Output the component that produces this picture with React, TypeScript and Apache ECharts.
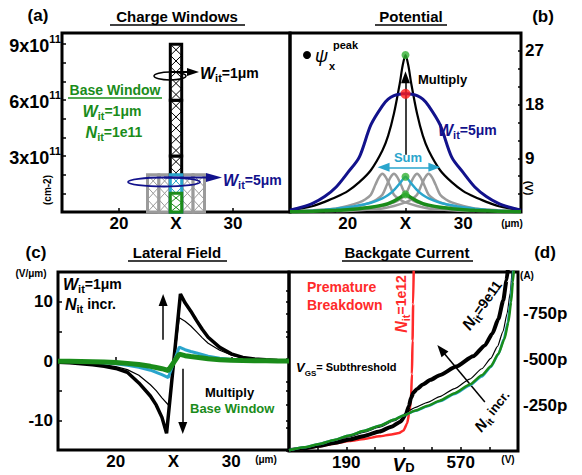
import React, { useEffect, useRef } from 'react';
import * as echarts from 'echarts';

const F = '"Liberation Sans", Arial, Helvetica, sans-serif';
const GREEN = '#1a8c1a';
const CYAN = '#2aa5cc';
const NAVY = '#12128c';
const GRAY = '#9b9b9b';
const RED = '#ff2a2a';

// ---------- (a) Charge Windows : [center x (um), bottom, top] in 1e11 cm-2 ----------
const chargeLabelTicks = [3, 6, 9];
const grayWindows = [[23, 0, 2], [24, 0, 2], [25, 0, 2], [26, 0, 2], [27, 0, 2]];
const blackWindows = [[25, 0, 3], [25, 3, 6], [25, 6, 9]];
const cyanWindows = [[25, 0, 2]];
const greenWindows = [[25, 0, 1]];

// ---------- (b) Potential (V) ----------
const potX = [15, 16, 17, 18, 19, 20, 21, 22, 23, 23.5, 24, 24.5, 24.75, 25, 25.25, 25.5, 26, 26.5, 27, 28, 29, 30, 31, 32, 33, 34, 35];
const potBlack = [0.4, 0.6, 1.0, 1.7, 2.5, 3.5, 5.0, 7.0, 10.3, 12.8, 16.5, 21.5, 24.5, 26.3, 24.5, 21.5, 16.5, 12.8, 10.3, 7.0, 5.0, 3.5, 2.5, 1.7, 1.0, 0.6, 0.4];
const potNavy = [0.3, 0.8, 1.5, 2.6, 4.2, 6.6, 9.2, 14.6, 17.8, 18.9, 19.5, 19.75, 19.8, 19.8, 19.8, 19.75, 19.5, 18.9, 17.8, 14.6, 9.2, 6.6, 4.2, 2.6, 1.5, 0.8, 0.3];
const potCyan = [0.1, 0.14, 0.22, 0.38, 0.56, 0.78, 1.12, 1.56, 2.3, 2.85, 3.66, 4.78, 5.4, 5.9, 5.4, 4.78, 3.66, 2.85, 2.3, 1.56, 1.12, 0.78, 0.56, 0.38, 0.22, 0.14, 0.1];
const potGreen = [0.05, 0.07, 0.11, 0.19, 0.28, 0.39, 0.56, 0.78, 1.15, 1.42, 1.83, 2.39, 2.72, 2.95, 2.72, 2.39, 1.83, 1.42, 1.15, 0.78, 0.56, 0.39, 0.28, 0.19, 0.11, 0.07, 0.05];
const grayCenters = [23, 24, 26, 27];
const grayDx = [-8, -6, -4, -3, -2, -1.5, -1, -0.6, -0.3, 0, 0.3, 0.6, 1, 1.5, 2, 3, 4, 6, 8];
const grayV = [0.15, 0.3, 0.6, 1.0, 1.6, 2.1, 2.9, 4.6, 5.8, 6.4, 5.8, 4.6, 2.9, 2.1, 1.6, 1.0, 0.6, 0.3, 0.15];
const peakGreen = [[25, 26.3], [25, 5.9], [25, 2.95]];
const peakRed = [[25, 19.8]];
const potLabelTicks = [9, 18, 27];

// ---------- (c) Lateral Field (V/um) ----------
const fieldBlack = [[15, -0.2], [16, -0.3], [17, -0.45], [18, -0.65], [19, -0.9], [20, -1.25], [21, -1.9], [22, -3.7], [23, -5.9], [23.5, -7.4], [24, -9.5], [24.4, -12.2], [25.6, 11.3], [26, 9.8], [26.5, 8.4], [27, 6.8], [27.5, 5.3], [28, 4.0], [29, 2.3], [30, 1.2], [31, 0.6], [32, 0.35], [33, 0.2], [34, 0.1], [35, 0.05]];
const fieldThin = [[15, -0.15], [16, -0.2], [17, -0.3], [18, -0.45], [19, -0.65], [20, -0.95], [21, -1.45], [22, -2.4], [23, -4.0], [23.5, -5.0], [24, -6.2], [24.6, -7.5], [25.5, 7.3], [26, 6.7], [26.5, 5.9], [27, 4.9], [27.5, 3.9], [28, 3.0], [29, 1.8], [30, 1.0], [31, 0.5], [32, 0.3], [33, 0.15], [34, 0.1], [35, 0.05]];
const fieldCyan = [[15, -0.05], [16, -0.08], [17, -0.12], [18, -0.2], [19, -0.3], [20, -0.45], [21, -0.7], [22, -1.05], [23, -1.55], [23.5, -1.9], [24, -2.3], [24.55, -2.8], [25.5, 2.35], [26, 1.9], [26.5, 1.6], [27, 1.35], [28, 0.8], [29, 0.45], [30, 0.25], [31, 0.14], [32, 0.08], [33, 0.05], [34, 0.03], [35, 0.02]];
const fieldGreen = [[15, -0.03], [16, -0.05], [17, -0.08], [18, -0.12], [19, -0.18], [20, -0.27], [21, -0.4], [22, -0.6], [23, -0.9], [23.5, -1.1], [24, -1.3], [24.55, -1.6], [25.5, 1.15], [26, 0.9], [26.5, 0.75], [27, 0.62], [28, 0.38], [29, 0.22], [30, 0.12], [31, 0.07], [32, 0.04], [33, 0.03], [34, 0.02], [35, 0.01]];
const fieldLabelTicks = [-10, 0, 10];

// ---------- (d) Backgate Current : [V, |I| in pA] ----------
const curGreen = [[0, 4], [50, 20], [100, 38], [150, 60], [200, 85], [250, 110], [300, 138], [350, 172], [380, 194], [420, 220], [460, 246], [500, 274], [550, 315], [600, 362], [640, 412], [670, 462], [695, 530], [715, 610], [728, 700], [737, 810], [743, 920], [747, 1000]];
const curCyan = [[0, 4], [50, 20], [100, 38], [150, 60], [200, 85], [250, 110], [300, 138], [350, 172], [380, 194], [420, 219], [460, 244], [500, 271], [550, 311], [600, 357], [640, 406], [670, 458], [695, 528], [713, 610], [726, 700], [735, 810], [741, 920], [745, 1000]];
const curThin = [[0, 4], [50, 18], [100, 34], [150, 55], [200, 78], [250, 103], [300, 130], [350, 165], [380, 195], [400, 222], [420, 238], [460, 265], [500, 296], [550, 340], [600, 392], [640, 448], [670, 505], [692, 570], [710, 650], [724, 750], [734, 860], [741, 1000]];
const curThick = [[0, 4], [50, 14], [100, 28], [150, 44], [200, 62], [250, 82], [300, 106], [340, 132], [370, 160], [388, 200], [398, 245], [405, 290], [413, 318], [425, 338], [444, 362], [470, 388], [500, 413], [555, 460], [611, 516], [650, 575], [675, 640], [695, 720], [711, 820], [722, 930], [727, 1000]];
const curRed = [[0, 3], [50, 12], [100, 26], [150, 40], [200, 55], [250, 66], [300, 80], [340, 90], [365, 98], [380, 112], [392, 150], [400, 215], [405, 290], [408, 420], [410, 600], [412, 800], [414, 1000]];
const curLabelTicks = [250, 500, 750];
const voltLabels: Record<number, string> = { 190: '190', 380: '{v|V}{d|D}', 570: '570' };

const tickStyle = { show: true, inside: true, length: 4, lineStyle: { color: '#000', width: 1.5 } };
const lblBase = { color: '#000', fontFamily: F, fontWeight: 'bold' as const, fontSize: 17 };

function wRich(color: string, base = 14) {
  return {
    w: { fontFamily: F, fontWeight: 'bold', fontStyle: 'italic', fontSize: base + 2, lineHeight: 20, verticalAlign: 'middle', fill: color, color },
    s: { fontFamily: F, fontWeight: 'bold', fontSize: base - 3, lineHeight: 11, verticalAlign: 'bottom', fill: color, color },
    n: { fontFamily: F, fontWeight: 'bold', fontSize: base, lineHeight: 20, verticalAlign: 'middle', fill: color, color },
  };
}

function txt(x: number, y: number, text: string, o: any = {}) {
  return {
    type: 'text', x, y, rotation: o.rot || 0, z: 100, silent: true,
    style: {
      text, fill: o.color || '#000', fontFamily: F, fontWeight: o.weight || 'bold',
      fontSize: o.size || 14, fontStyle: o.italic ? 'italic' : 'normal',
      align: o.align || 'left', verticalAlign: 'middle', rich: o.rich,
    },
  };
}
function ln(x1: number, y1: number, x2: number, y2: number, color = '#000', w = 1.5) {
  return { type: 'line', z: 100, silent: true, shape: { x1, y1, x2, y2 }, style: { stroke: color, lineWidth: w } };
}
function tri(points: number[][], color: string) {
  return { type: 'polygon', z: 100, silent: true, shape: { points }, style: { fill: color } };
}

function windowRender(color: string, lw: number) {
  return (params: any, api: any) => {
    const xc = api.value(0), y0 = api.value(1), y1 = api.value(2);
    const p0 = api.coord([xc - 0.5, y0]);
    const p1 = api.coord([xc + 0.5, y1]);
    const x = p0[0], w = p1[0] - p0[0], top = p1[1], h = p0[1] - p1[1];
    const n = Math.max(1, Math.round(h / w));
    const ch = h / n;
    const children: any[] = [{ type: 'rect', shape: { x, y: top, width: w, height: h }, style: { fill: '#fff' } }];
    for (let i = 0; i < n; i++) {
      const yy = top + i * ch;
      children.push({ type: 'line', shape: { x1: x, y1: yy, x2: x + w, y2: yy + ch }, style: { stroke: color, lineWidth: 1 } });
      children.push({ type: 'line', shape: { x1: x + w, y1: yy, x2: x, y2: yy + ch }, style: { stroke: color, lineWidth: 1 } });
    }
    children.push({ type: 'rect', shape: { x, y: top, width: w, height: h }, style: { fill: 'none', stroke: color, lineWidth: lw } });
    return { type: 'group', children };
  };
}

function customWin(data: number[][], color: string, z: number) {
  return {
    type: 'custom', xAxisIndex: 0, yAxisIndex: 0, z, clip: false, silent: true,
    renderItem: windowRender(color, 3), encode: { x: 0, y: [1, 2] }, data,
  };
}

function lineS(data: number[][], x: number, y: number, color: string, width: number, z: number, extra: any = {}) {
  return {
    type: 'line', xAxisIndex: x, yAxisIndex: y, data, showSymbol: false, symbol: 'none', z, silent: true,
    lineStyle: { color, width }, itemStyle: { color }, ...extra,
  };
}

function arrowML(segs: number[][][], color: string, both = false) {
  return {
    silent: true, symbol: both ? ['triangle', 'triangle'] : ['none', 'triangle'], symbolSize: [9, 12],
    label: { show: false }, lineStyle: { color, width: 1.5, type: 'solid' },
    data: segs.map((s) => [{ coord: s[0] }, { coord: s[1] }]),
  };
}

function buildOption(): any {
  const xBase = (grid: number) => ({
    type: 'value', gridIndex: grid, min: 15, max: 35, interval: 5,
    axisLine: { show: false }, axisTick: tickStyle, splitLine: { show: false },
    axisLabel: { ...lblBase, margin: 3, formatter: (v: number) => (v === 20 ? '20' : v === 25 ? 'X' : v === 30 ? '30' : '') },
  });
  const grays = grayCenters.map((c) => lineS(grayDx.map((d, i) => [c + d, grayV[i]]), 1, 1, GRAY, 2.5, 3, { smooth: 0.3 }));
  const bAll = (v: number[]) => potX.map((x, i) => [x, v[i]]);

  return {
    animation: false,
    backgroundColor: '#fff',
    grid: [
      { left: 62, top: 33, width: 228, height: 179, show: true, borderColor: '#000', borderWidth: 3, backgroundColor: 'transparent' },
      { left: 290, top: 33, width: 231, height: 179, show: true, borderColor: '#000', borderWidth: 3, backgroundColor: 'transparent' },
      { left: 58, top: 272, width: 231, height: 178, show: true, borderColor: '#000', borderWidth: 3, backgroundColor: 'transparent' },
      { left: 289, top: 272, width: 229, height: 179, show: true, borderColor: '#000', borderWidth: 3, backgroundColor: 'transparent' },
    ],
    xAxis: [
      xBase(0), xBase(1), xBase(2),
      {
        type: 'value', gridIndex: 3, min: 0, max: 760, interval: 95,
        axisLine: { show: false }, axisTick: tickStyle, splitLine: { show: false },
        axisLabel: {
          ...lblBase, margin: 3, formatter: (v: number) => voltLabels[v] || '',
          rich: {
            v: { fontFamily: F, fontWeight: 'bold', fontStyle: 'italic', fontSize: 19, lineHeight: 20, verticalAlign: 'middle', color: '#000' },
            d: { fontFamily: F, fontWeight: 'bold', fontSize: 13, lineHeight: 10, verticalAlign: 'bottom', color: '#000' },
          },
        },
      },
    ],
    yAxis: [
      {
        type: 'value', gridIndex: 0, position: 'left', min: 0, max: 9.6, interval: 1,
        axisLine: { show: false }, axisTick: tickStyle, splitLine: { show: false },
        axisLabel: {
          ...lblBase, margin: 1,
          formatter: (v: number) => (chargeLabelTicks.includes(v) ? `{m|${v}x10}{p|11}` : ''),
          rich: {
            m: { fontFamily: F, fontWeight: 'bold', fontSize: 18, lineHeight: 22, verticalAlign: 'bottom', color: '#000' },
            p: { fontFamily: F, fontWeight: 'bold', fontSize: 11, lineHeight: 11, verticalAlign: 'top', color: '#000' },
          },
        },
      },
      {
        type: 'value', gridIndex: 1, position: 'right', min: 0, max: 30, interval: 3,
        axisLine: { show: false }, axisTick: { ...tickStyle, length: 3 }, splitLine: { show: false },
        axisLabel: { ...lblBase, margin: 4, formatter: (v: number) => (potLabelTicks.includes(v) ? String(v) : '') },
      },
      {
        type: 'value', gridIndex: 2, position: 'left', min: -15, max: 15, interval: 5,
        axisLine: { show: false }, axisTick: tickStyle, splitLine: { show: false },
        axisLabel: { ...lblBase, margin: 5, formatter: (v: number) => (fieldLabelTicks.includes(v) ? String(v) : '') },
      },
      {
        type: 'value', gridIndex: 2, position: 'right', min: -15, max: 15, interval: 5,
        axisLine: { show: false }, axisTick: { ...tickStyle, length: 3 }, splitLine: { show: false },
        axisLabel: { show: false },
      },
      {
        type: 'value', gridIndex: 3, position: 'right', min: 0, max: 975, interval: 125,
        axisLine: { show: false }, axisTick: { ...tickStyle, length: 3 }, splitLine: { show: false },
        axisLabel: { ...lblBase, margin: 5, formatter: (v: number) => (curLabelTicks.includes(v) ? `-${v}p` : '') },
      },
    ],
    series: [
      customWin(grayWindows, GRAY, 2),
      customWin(blackWindows, '#000', 3),
      customWin(cyanWindows, CYAN, 4),
      customWin(greenWindows, GREEN, 5),

      ...grays,
      lineS(bAll(potBlack), 1, 1, '#000', 2.2, 4, {
        smooth: 0.3,
        markLine: arrowML([[[25, 9.6], [25, 22.6]]], '#000'),
      }),
      lineS(bAll(potNavy), 1, 1, NAVY, 3, 5, { smooth: 0.3 }),
      lineS(bAll(potCyan), 1, 1, CYAN, 2.5, 6, {
        smooth: 0.3,
        markLine: arrowML([[[23.1, 7.5], [27.5, 7.5]]], CYAN, true),
      }),
      lineS(bAll(potGreen), 1, 1, GREEN, 3.5, 7, { smooth: 0.3 }),
      { type: 'scatter', xAxisIndex: 1, yAxisIndex: 1, data: peakGreen, symbolSize: 8, itemStyle: { color: '#33b033' }, z: 10, silent: true },
      { type: 'scatter', xAxisIndex: 1, yAxisIndex: 1, data: peakRed, symbolSize: 10, itemStyle: { color: '#ff1a1a' }, z: 10, silent: true },

      lineS(fieldBlack, 2, 2, '#000', 3.5, 4, {
        markLine: arrowML([[[24.1, 3.6], [24.1, 10.3]], [[25.8, -1.3], [25.8, -11.3]]], '#000'),
      }),
      lineS(fieldThin, 2, 2, '#000', 1.2, 5),
      lineS(fieldCyan, 2, 2, CYAN, 3, 6),
      lineS(fieldGreen, 2, 2, GREEN, 5, 7),

      lineS(curRed, 3, 4, RED, 2.5, 4, { smooth: 0.2, smoothMonotone: 'x' }),
      lineS(curThick, 3, 4, '#000', 4, 5, { smooth: 0.2, smoothMonotone: 'x' }),
      lineS(curThin, 3, 4, '#000', 1.2, 6, {
        smooth: 0.2, smoothMonotone: 'x',
        markLine: arrowML([[[650, 267], [505, 552]]], '#000'),
      }),
      lineS(curCyan, 3, 4, CYAN, 2.5, 7, { smooth: 0.2, smoothMonotone: 'x' }),
      lineS(curGreen, 3, 4, GREEN, 2.5, 8, { smooth: 0.2, smoothMonotone: 'x' }),
    ],
    graphic: [
      // titles
      txt(38, 15, '(a)', { size: 17, align: 'center' }),
      txt(177, 16, 'Charge Windows', { size: 15, align: 'center' }),
      ln(110, 25, 245, 25),
      txt(411, 16, 'Potential', { size: 15, align: 'center' }),
      ln(375, 25, 447, 25),
      txt(543, 16, '(b)', { size: 17, align: 'center' }),
      txt(36, 252, '(c)', { size: 17, align: 'center' }),
      txt(177, 252, 'Lateral Field', { size: 15, align: 'center' }),
      ln(128, 261, 227, 261),
      txt(407, 252, 'Backgate Current', { size: 15, align: 'center' }),
      ln(342, 261, 473, 261),
      txt(545, 252, '(d)', { size: 17, align: 'center' }),

      // (a) annotations
      txt(47, 190, '(cm-2)', { size: 10, align: 'center', rot: Math.PI / 2 }),
      txt(115, 90, 'Base Window', { size: 14, align: 'center', color: GREEN }),
      ln(68, 98, 162, 98, GREEN, 1.5),
      txt(112, 111, '{w|W}{s|it}{n|=1μm}', { align: 'center', color: GREEN, rich: wRich(GREEN) }),
      txt(114, 132, '{w|N}{s|it}{n|=1e11}', { align: 'center', color: GREEN, rich: wRich(GREEN) }),
      { type: 'ellipse', z: 100, silent: true, shape: { cx: 170, cy: 76, rx: 16, ry: 4 }, style: { fill: 'none', stroke: '#000', lineWidth: 1.5 } },
      ln(170, 72, 190, 72, '#000', 2),
      tri([[187, 68], [199, 72], [187, 76]], '#000'),
      txt(200, 73, '{w|W}{s|it}{n|=1μm}', { color: '#000', rich: wRich('#000') }),
      { type: 'ellipse', z: 100, silent: true, shape: { cx: 164, cy: 182, rx: 36, ry: 4.5 }, style: { fill: 'none', stroke: NAVY, lineWidth: 1.8 } },
      ln(164, 177.5, 209, 177.5, NAVY, 2),
      tri([[206, 173], [222, 177.5], [206, 182]], NAVY),
      txt(223, 180, '{w|W}{s|it}{n|=5μm}', { color: NAVY, rich: wRich(NAVY) }),

      // (b) annotations
      { type: 'circle', z: 100, silent: true, shape: { cx: 307, cy: 55, r: 4 }, style: { fill: '#000' } },
      txt(315, 56, 'ψ', { size: 18, italic: true, weight: 'normal' }),
      txt(329, 66, 'x', { size: 11 }),
      txt(333, 45, 'peak', { size: 11 }),
      txt(418, 79, 'Multiply', { size: 13 }),
      txt(438, 130, '{w|W}{s|it}{n|=5μm}', { color: NAVY, rich: wRich(NAVY) }),
      txt(408, 157, 'Sum', { size: 13, align: 'center', color: CYAN }),
      txt(512, 223, '(μm)', { size: 10, align: 'center' }),
      txt(529, 188, '(V)', { size: 11, align: 'center', rot: -Math.PI / 2 }),

      // (c) annotations
      txt(31, 273, '(V/μm)', { size: 10, align: 'center' }),
      txt(63, 284, '{w|W}{s|it}{n|=1μm}', { rich: wRich('#000') }),
      txt(65, 304, '{w|N}{s|it}{n| incr.}', { rich: wRich('#000') }),
      txt(205, 392, 'Multiply', { size: 13 }),
      txt(190, 408, 'Base Window', { size: 13, color: GREEN }),
      txt(266, 459, '(μm)', { size: 10, align: 'center' }),

      // (d) annotations
      txt(307, 287, 'Premature', { size: 14, color: RED }),
      txt(307, 305, 'Breakdown', { size: 14, color: RED }),
      txt(401, 304, '{w|N}{s|it}{n|=1e12}', { align: 'center', color: RED, rot: Math.PI / 2, rich: wRich(RED) }),
      txt(482, 305, '{w|N}{s|it}{n|=9e11}', { align: 'center', rot: 0.95, rich: wRich('#000') }),
      txt(296, 367, '{w|V}{s|GS}{n|= Subthreshold}', { rich: wRich('#000', 11) }),
      txt(492, 411, '{w|N}{s|it}{n| incr.}', { align: 'center', rot: 0.9, rich: wRich('#000', 13) }),
      txt(527, 275, '(A)', { size: 10, align: 'center' }),
      txt(508, 459, '(V)', { size: 10, align: 'center' }),
    ],
  };
}

export default function App() {
  const ref = useRef<HTMLDivElement>(null);
  useEffect(() => {
    const chart = echarts.init(ref.current!, undefined, { renderer: 'svg' });
    chart.setOption(buildOption());
    return () => chart.dispose();
  }, []);
  return <div ref={ref} style={{ position: 'fixed', left: 0, top: 0, width: 582, height: 475, background: '#fff' }} />;
}
